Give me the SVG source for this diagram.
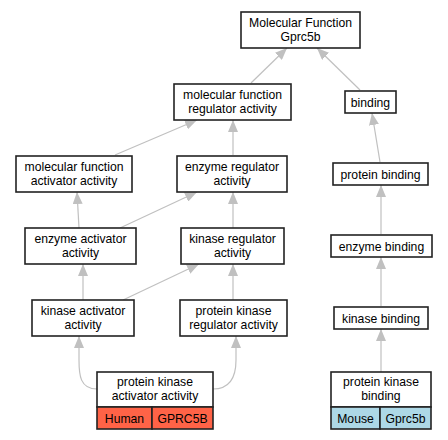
<svg xmlns="http://www.w3.org/2000/svg" width="448" height="440" viewBox="0 0 448 440">
<style>
.n rect{fill:#fff;stroke:#222;stroke-width:1.6}
text{font-family:"Liberation Sans",Arial,sans-serif;font-size:12.2px;text-anchor:middle;fill:#000}
.e path{fill:none;stroke:#c0c0c0;stroke-width:1.2;marker-end:url(#ah)}
rect.h{fill:#ff6347}
rect.m{fill:#add8e6}
</style>
<defs>
<marker id="ah" viewBox="0 0 12 10" refX="12" refY="5" markerWidth="12" markerHeight="10" markerUnits="userSpaceOnUse" orient="auto">
<path d="M0,0 L12,5 L0,10 z" fill="#c0c0c0"/>
</marker>
</defs>
<rect width="448" height="440" fill="#fff"/>
<g id="edges" class="e">
<path d="M251,83 L287,48"/>
<path d="M360,90 L317,48"/>
<path d="M115,155 L197,120"/>
<path d="M233,155 L233,120"/>
<path d="M380,162 L372,113"/>
<path d="M79,228 L77,192"/>
<path d="M120,228 L197,192"/>
<path d="M233,228 L233,192"/>
<path d="M381,234 L381,185"/>
<path d="M83,300 L83,264"/>
<path d="M123,300 L199,264"/>
<path d="M233,300 L233,264"/>
<path d="M381,306 L381,257"/>
<path d="M97,389 C80,389 79,375 79,360 L79,336"/>
<path d="M213,389 C232,389 236,375 236,360 L236,336"/>
<path d="M381,372 L381,329"/>
</g>
<g id="mf" class="n"><rect x="241" y="12" width="119" height="36"/><text x="300.5" y="26.5">Molecular Function</text><text x="300.5" y="40.5">Gprc5b</text></g>
<g id="mfreg" class="n"><rect x="174" y="84" width="117" height="36"/><text x="232.5" y="98.5">molecular function</text><text x="232.5" y="112.5">regulator activity</text></g>
<g id="binding" class="n"><rect x="345" y="91" width="51" height="22"/><text x="370.5" y="106.5">binding</text></g>
<g id="mfact" class="n"><rect x="16" y="156" width="116" height="36"/><text x="74" y="170.5">molecular function</text><text x="74" y="184.5">activator activity</text></g>
<g id="enzreg" class="n"><rect x="177" y="156" width="110" height="36"/><text x="232" y="170.5">enzyme regulator</text><text x="232" y="184.5">activity</text></g>
<g id="protbind" class="n"><rect x="333" y="163" width="95" height="22"/><text x="380.5" y="178.5">protein binding</text></g>
<g id="enzact" class="n"><rect x="25" y="228" width="111" height="36"/><text x="80.5" y="242.5">enzyme activator</text><text x="80.5" y="256.5">activity</text></g>
<g id="kinreg" class="n"><rect x="181" y="228" width="103" height="36"/><text x="232.5" y="242.5">kinase regulator</text><text x="232.5" y="256.5">activity</text></g>
<g id="enzbind" class="n"><rect x="331" y="235" width="101" height="22"/><text x="381.5" y="250.5">enzyme binding</text></g>
<g id="kinact" class="n"><rect x="32" y="300" width="102" height="36"/><text x="83" y="314.5">kinase activator</text><text x="83" y="328.5">activity</text></g>
<g id="pkreg" class="n"><rect x="180" y="300" width="107" height="36"/><text x="233.5" y="314.5">protein kinase</text><text x="233.5" y="328.5">regulator activity</text></g>
<g id="kinbind" class="n"><rect x="334" y="307" width="94" height="22"/><text x="381" y="322.5">kinase binding</text></g>
<g id="pkact" class="n"><rect x="97" y="372" width="116" height="35"/><text x="155" y="386">protein kinase</text><text x="155" y="400">activator activity</text><rect class="h" x="97" y="407" width="55" height="22"/><rect class="h" x="152" y="407" width="61" height="22"/><text x="124.5" y="422.5">Human</text><text x="182.5" y="422.5">GPRC5B</text></g>
<g id="pkbind" class="n"><rect x="331" y="372" width="100" height="35"/><text x="381" y="386">protein kinase</text><text x="381" y="400">binding</text><rect class="m" x="331" y="407" width="49" height="22"/><rect class="m" x="380" y="407" width="51" height="22"/><text x="355.5" y="422.5">Mouse</text><text x="405.5" y="422.5">Gprc5b</text></g>
</svg>
